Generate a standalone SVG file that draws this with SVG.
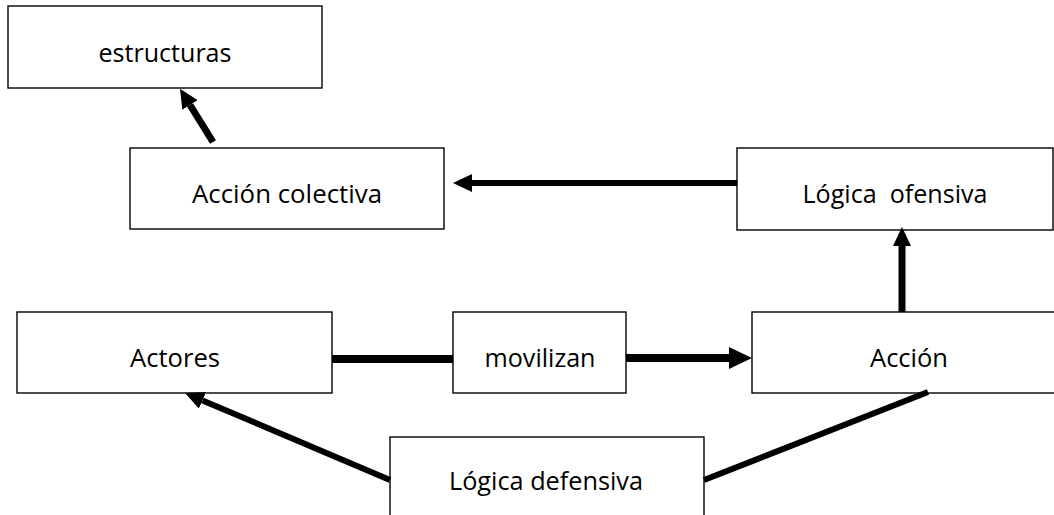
<svg xmlns="http://www.w3.org/2000/svg" width="1054" height="515" viewBox="0 0 1054 515">
  <style>
    .box { fill: #ffffff; stroke: #000000; stroke-width: 1.4; }
    .lbl { font-family: "Open Sans", "Liberation Sans", sans-serif; font-size: 26px; fill: #000000; text-anchor: middle; }
    .con { stroke: #000000; fill: none; stroke-linecap: butt; }
  </style>
  <defs>
    <marker id="arrow" markerUnits="userSpaceOnUse" viewBox="0 0 19 18" refX="0" refY="9" markerWidth="19" markerHeight="18" orient="auto">
      <path d="M0,0 L19,9 L0,18 z" fill="#000000"/>
    </marker>
    <marker id="arrowL" markerUnits="userSpaceOnUse" viewBox="0 0 23 22" refX="0" refY="11" markerWidth="23" markerHeight="22" orient="auto">
      <path d="M0,0 L23,11 L0,22 z" fill="#000000"/>
    </marker>
  </defs>

  <g id="node-estructuras">
    <rect class="box" x="8" y="6" width="314" height="82"/>
    <text class="lbl" x="165" y="62" textLength="133" lengthAdjust="spacingAndGlyphs">estructuras</text>
  </g>
  <g id="node-accion-colectiva">
    <rect class="box" x="130" y="148" width="314" height="81"/>
    <text class="lbl" x="287" y="203" textLength="190" lengthAdjust="spacingAndGlyphs">Acción colectiva</text>
  </g>
  <g id="node-logica-ofensiva">
    <rect class="box" x="737" y="148" width="316" height="82"/>
    <text class="lbl" x="895" y="203" textLength="185" lengthAdjust="spacingAndGlyphs" xml:space="preserve">Lógica  ofensiva</text>
  </g>
  <g id="node-actores">
    <rect class="box" x="17" y="312" width="315" height="81"/>
    <text class="lbl" x="175" y="367" textLength="90" lengthAdjust="spacingAndGlyphs">Actores</text>
  </g>
  <g id="node-movilizan">
    <rect class="box" x="453" y="312" width="173" height="81"/>
    <text class="lbl" x="540" y="367" textLength="111" lengthAdjust="spacingAndGlyphs">movilizan</text>
  </g>
  <g id="node-accion">
    <rect class="box" x="752" y="312" width="320" height="81"/>
    <text class="lbl" x="909" y="367" textLength="78" lengthAdjust="spacingAndGlyphs">Acción</text>
  </g>
  <g id="node-logica-defensiva">
    <rect class="box" x="390" y="437" width="314" height="100"/>
    <text class="lbl" x="546" y="490" textLength="194" lengthAdjust="spacingAndGlyphs">Lógica defensiva</text>
  </g>

  <g id="connectors">
    <line class="con" stroke-width="7" x1="213" y1="142" x2="190" y2="105" marker-end="url(#arrow)"/>
    <line class="con" stroke-width="6" x1="737" y1="183" x2="472" y2="183" marker-end="url(#arrow)"/>
    <line class="con" stroke-width="7" x1="902" y1="312" x2="902" y2="246" marker-end="url(#arrow)"/>
    <line class="con" stroke-width="8" x1="332" y1="359" x2="453" y2="359"/>
    <line class="con" stroke-width="8" x1="626" y1="358" x2="729" y2="358" marker-end="url(#arrowL)"/>
    <line class="con" stroke-width="6" x1="390" y1="480" x2="202.5" y2="400.4" marker-end="url(#arrow)"/>
    <line class="con" stroke-width="6" x1="704" y1="480" x2="928" y2="392"/>
  </g>
</svg>
